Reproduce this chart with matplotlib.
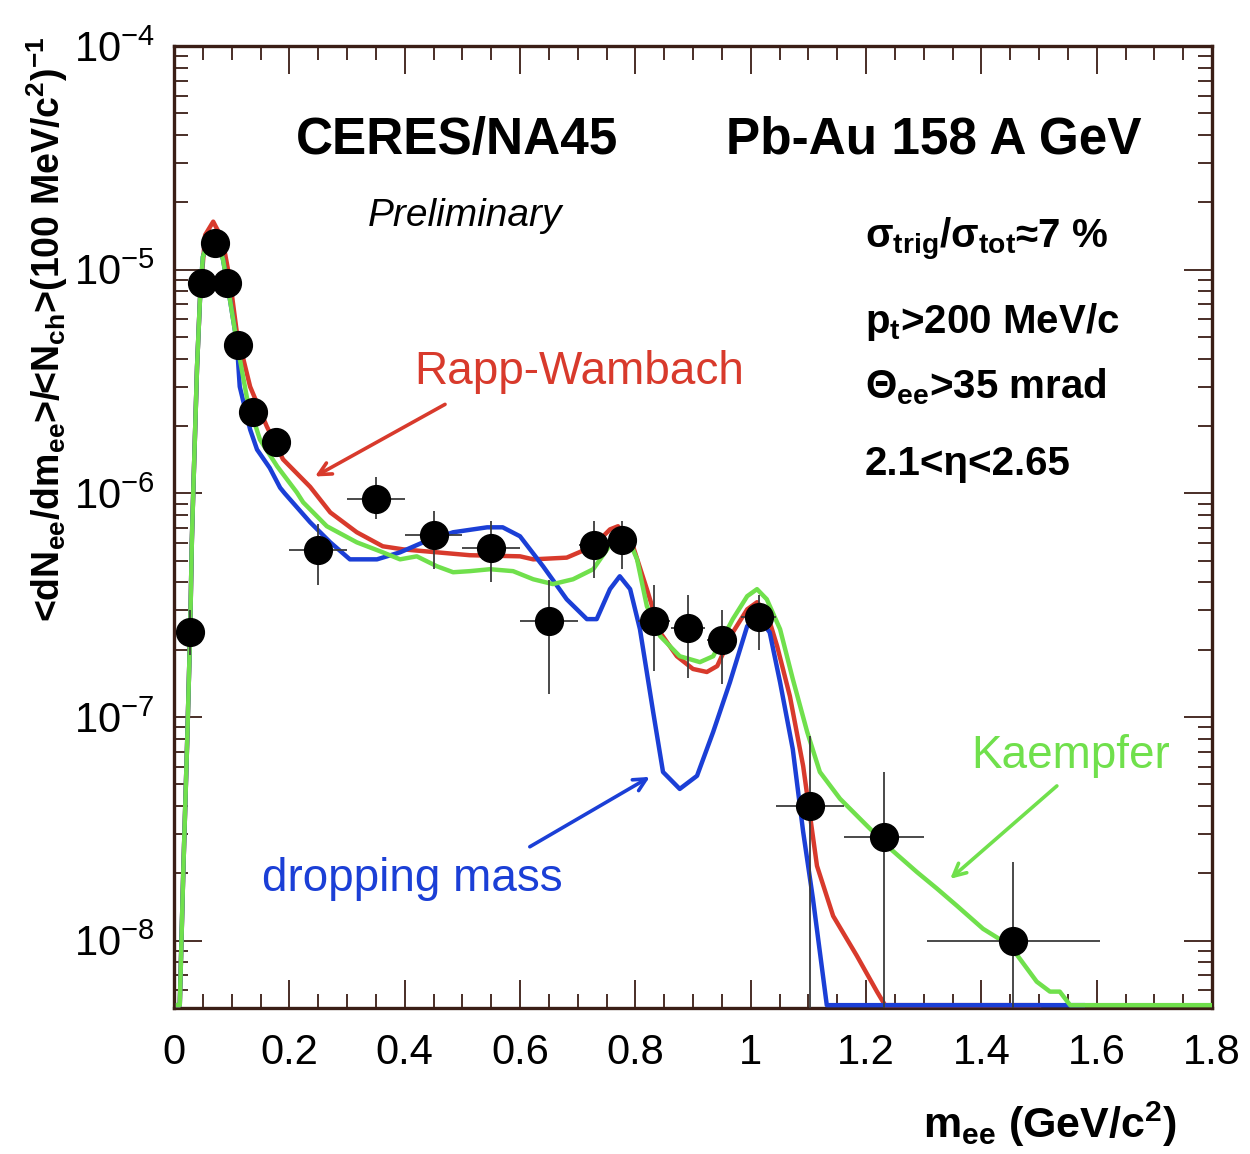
import matplotlib
matplotlib.use("Agg")
import matplotlib.pyplot as plt
import numpy as np
from matplotlib import font_manager
from matplotlib.ticker import LogLocator, MultipleLocator, NullFormatter

# ---- data -----------------------------------------------------------------
mass = [0.028, 0.049, 0.071, 0.092, 0.111, 0.137, 0.177, 0.25, 0.35, 0.45, 0.55,
        0.65, 0.728, 0.777, 0.832, 0.891, 0.950, 1.014, 1.103, 1.231, 1.455]
dndm = [2.4e-7, 8.7e-6, 1.32e-5, 8.7e-6, 4.6e-6, 2.3e-6, 1.7e-6, 5.6e-7, 9.4e-7,
        6.5e-7, 5.7e-7, 2.7e-7, 5.9e-7, 6.2e-7, 2.7e-7, 2.5e-7, 2.2e-7, 2.8e-7,
        4.0e-8, 2.9e-8, 1.0e-8]
dndm_lo = [1.9e-7, 8.0e-6, 1.25e-5, 8.0e-6, 4.2e-6, 2.1e-6, 1.55e-6, 3.9e-7, 7.7e-7,
           4.6e-7, 4.0e-7, 1.27e-7, 4.2e-7, 4.6e-7, 1.6e-7, 1.5e-7, 1.4e-7, 2.0e-7,
           1e-10, 1e-10, 1e-10]
dndm_hi = [3.0e-7, 9.4e-6, 1.4e-5, 9.4e-6, 5.0e-6, 2.5e-6, 1.85e-6, 7.3e-7, 1.18e-6,
           8.3e-7, 7.5e-7, 4.1e-7, 7.5e-7, 7.5e-7, 3.9e-7, 3.5e-7, 3.0e-7, 3.5e-7,
           8.2e-8, 5.7e-8, 2.25e-8]
mass_err = [0.0, 0.01, 0.01, 0.01, 0.01, 0.015, 0.02, 0.05, 0.05, 0.05, 0.05, 0.05,
            0.025, 0.025, 0.028, 0.029, 0.025, 0.03, 0.059, 0.07, 0.15]

# common low-mass rise of the three model curves
rise_x = [0.007, 0.010, 0.016, 0.023, 0.028, 0.031, 0.033, 0.040, 0.045]
rise_y = [0.0, 5e-9, 2.0e-8, 8.0e-8, 2.4e-7, 6.2e-7, 9.4e-7, 3.7e-6, 7.35e-6]

rw_x = rise_x + [0.054, 0.068, 0.080, 0.085, 0.097, 0.109, 0.132, 0.161, 0.189, 0.236,
                 0.271, 0.317, 0.362, 0.397, 0.456, 0.513, 0.600, 0.623, 0.681, 0.727,
                 0.756, 0.770, 0.796, 0.820, 0.843, 0.872, 0.900, 0.924, 0.942, 0.969,
                 0.994, 1.011, 1.028, 1.046, 1.068, 1.091, 1.115, 1.143, 1.184, 1.219,
                 1.233, 1.25, 1.50]
rw_y = rise_y + [1.43e-5, 1.64e-5, 1.43e-5, 1.32e-5, 9.0e-6, 5.23e-6, 3.0e-6, 1.99e-6,
                 1.42e-6, 1.07e-6, 8.22e-7, 6.7e-7, 5.8e-7, 5.62e-7, 5.45e-7, 5.29e-7,
                 5.23e-7, 5.07e-7, 5.16e-7, 5.8e-7, 6.9e-7, 7.13e-7, 5.8e-7, 3.73e-7,
                 2.39e-7, 1.87e-7, 1.64e-7, 1.59e-7, 1.69e-7, 2.39e-7, 3.03e-7, 3.26e-7,
                 2.94e-7, 2.07e-7, 1.24e-7, 6.04e-8, 2.16e-8, 1.29e-8, 8.57e-9, 5.92e-9,
                 5.0e-9, 0.0, 0.0]

dm_x = rise_x + [0.050, 0.062, 0.075, 0.085, 0.097, 0.109, 0.114, 0.132, 0.144, 0.166,
                 0.184, 0.192, 0.236, 0.271, 0.305, 0.352, 0.392, 0.432, 0.484, 0.543,
                 0.570, 0.600, 0.640, 0.681, 0.716, 0.733, 0.756, 0.773, 0.791, 0.808,
                 0.831, 0.848, 0.877, 0.907, 0.935, 0.964, 0.994, 1.016, 1.033, 1.051,
                 1.073, 1.091, 1.108, 1.132, 1.15, 1.576]
dm_y = rise_y + [1.14e-5, 1.40e-5, 1.36e-5, 1.11e-5, 7.35e-6, 4.72e-6, 3.0e-6, 1.93e-6,
                 1.57e-6, 1.30e-6, 1.06e-6, 1.0e-6, 7.43e-7, 6.04e-7, 5.07e-7, 5.07e-7,
                 5.45e-7, 6.04e-7, 6.7e-7, 7.05e-7, 7.05e-7, 6.43e-7, 4.72e-7, 3.36e-7,
                 2.74e-7, 2.74e-7, 3.73e-7, 4.26e-7, 3.73e-7, 2.47e-7, 1.05e-7, 5.68e-8,
                 4.77e-8, 5.46e-8, 8.58e-8, 1.43e-7, 2.55e-7, 2.74e-7, 2.39e-7, 1.43e-7,
                 7.19e-8, 3.07e-8, 1.54e-8, 5e-9, 0.0, 0.0]

ka_x = rise_x + [0.050, 0.062, 0.075, 0.085, 0.097, 0.109, 0.127, 0.149, 0.179, 0.213,
                 0.224, 0.265, 0.317, 0.362, 0.392, 0.421, 0.456, 0.484, 0.513, 0.548,
                 0.588, 0.623, 0.657, 0.692, 0.727, 0.751, 0.768, 0.786, 0.803, 0.820,
                 0.843, 0.877, 0.912, 0.935, 0.969, 0.994, 1.011, 1.028, 1.051, 1.073,
                 1.098, 1.120, 1.155, 1.202, 1.242, 1.288, 1.323, 1.358, 1.403, 1.450,
                 1.496, 1.519, 1.536, 1.554, 1.80]
ka_y = rise_y + [1.14e-5, 1.40e-5, 1.36e-5, 1.11e-5, 7.35e-6, 4.72e-6, 2.63e-6, 1.74e-6,
                 1.32e-6, 1.01e-6, 9.12e-7, 7.13e-7, 6.04e-7, 5.45e-7, 5.07e-7, 5.23e-7,
                 4.72e-7, 4.44e-7, 4.49e-7, 4.58e-7, 4.49e-7, 4.13e-7, 3.93e-7, 4.13e-7,
                 4.58e-7, 5.62e-7, 6.7e-7, 6.43e-7, 5.07e-7, 3.13e-7, 2.3e-7, 1.87e-7,
                 1.76e-7, 1.87e-7, 2.74e-7, 3.47e-7, 3.73e-7, 3.36e-7, 2.47e-7, 1.48e-7,
                 8.58e-8, 5.68e-8, 4.31e-8, 3.26e-8, 2.58e-8, 2.03e-8, 1.71e-8, 1.43e-8,
                 1.13e-8, 9.5e-9, 6.56e-9, 5.92e-9, 5.92e-9, 0.0, 0.0]

YMIN, YMAX = 5e-9, 1e-4
RED, BLUE, GREEN = "#d83a2c", "#1b3fd6", "#70e04c"
FRAME = "#3a1e16"

# ---- fonts: ROOT's Helvetica looks condensed here --------------------------
names = {f.name for f in font_manager.fontManager.ttflist}
base = "Liberation Sans Narrow" if "Liberation Sans Narrow" in names else "Liberation Sans"
plt.rcParams["font.family"] = [base, "DejaVu Sans"]
plt.rcParams["mathtext.fontset"] = "custom"
plt.rcParams["mathtext.rm"] = base
plt.rcParams["mathtext.it"] = base + ":italic"
plt.rcParams["mathtext.bf"] = base + ":bold"

fig = plt.figure(figsize=(12.5, 11.54), dpi=100)
ax = fig.add_axes([0.1392, 0.1265, 0.8304, 0.8336])


def floor(y):
    return np.clip(np.asarray(y, dtype=float), YMIN * 1.03, None)


ax.plot(rw_x, floor(rw_y), color=RED, lw=3.2, zorder=3)
ax.plot(dm_x, floor(dm_y), color=BLUE, lw=3.2, zorder=3)
ax.plot(ka_x, floor(ka_y), color=GREEN, lw=3.2, zorder=3)

y = np.array(dndm)
yerr = [y - np.array(dndm_lo), np.array(dndm_hi) - y]
ax.errorbar(mass, dndm, xerr=mass_err, yerr=yerr, fmt="o", color="black",
            ms=20, ecolor="#3c3c3c", elinewidth=1.3, capsize=0, zorder=5)

ax.set_yscale("log")
ax.set_xlim(0, 1.8)
ax.set_ylim(YMIN, YMAX)

ax.xaxis.set_major_locator(MultipleLocator(0.2))
ax.xaxis.set_minor_locator(MultipleLocator(0.05))
ax.xaxis.set_major_formatter(plt.FuncFormatter(lambda v, _: f"{v:g}"))
ax.yaxis.set_major_locator(LogLocator(base=10, numticks=20))
ax.yaxis.set_minor_locator(LogLocator(base=10, subs=np.arange(2, 10), numticks=20))
ax.yaxis.set_minor_formatter(NullFormatter())
ax.tick_params(which="both", direction="in", top=True, right=True, color=FRAME,
               width=1.3)
ax.tick_params(which="major", length=20)
ax.tick_params(which="minor", length=10)
ax.tick_params(axis="x", labelsize=30, pad=18)
ax.tick_params(axis="y", labelsize=30, pad=14)
for s in ax.spines.values():
    s.set_color(FRAME)
    s.set_linewidth(2.4)

ax.set_xlabel(r"m$_{\mathbf{ee}}$ (GeV/c$^{\mathbf{2}}$)", fontsize=31,
              fontweight="bold", loc="right")
ax.set_ylabel(r"<dN$_{\mathbf{ee}}$/dm$_{\mathbf{ee}}$>/<N$_{\mathbf{ch}}$>"
              r"(100 MeV/c$^{\mathbf{2}}$)$^{\mathbf{-1}}$",
              fontsize=27, fontweight="bold", loc="top")
ax.yaxis.set_label_coords(-0.1, 1.01)
ax.xaxis.set_label_coords(0.966, -0.095)

# header and cuts
ax.text(0.491, 3.8e-5, "CERES/NA45", fontsize=37, fontweight="bold",
        ha="center", va="center")
ax.text(1.318, 3.8e-5, "Pb-Au 158 A GeV", fontsize=37, fontweight="bold",
        ha="center", va="center")
ax.text(0.505, 1.73e-5, "Preliminary", fontsize=28, style="italic",
        ha="center", va="center")
cuts = [
    (1.36e-5, "σ$_{\\mathbf{trig}}$/σ$_{\\mathbf{tot}}$≈7 %"),
    (5.86e-6, r"p$_{\mathbf{t}}$>200 MeV/c"),
    (3.0e-6, "Θ$_{\\mathbf{ee}}$>35 mrad"),
    (1.35e-6, "2.1<η<2.65"),
]
for yy, s in cuts:
    ax.text(1.198, yy, s, fontsize=29, fontweight="bold", ha="left", va="center")

# model labels with arrows
ax.text(0.702, 3.5e-6, "Rapp-Wambach", color=RED, fontsize=33,
        ha="center", va="center")
ax.text(0.414, 1.89e-8, "dropping mass", color=BLUE, fontsize=33,
        ha="center", va="center")
ax.text(1.554, 6.7e-8, "Kaempfer", color=GREEN, fontsize=33,
        ha="center", va="center")
arrows = [
    ((0.470, 2.5e-6), (0.2445, 1.19e-6), RED),
    ((0.617, 2.63e-8), (0.825, 5.4e-8), BLUE),
    ((1.531, 4.92e-8), (1.346, 1.89e-8), GREEN),
]
for tail, head, c in arrows:
    ax.annotate("", xy=head, xytext=tail,
                arrowprops=dict(arrowstyle="->,head_length=0.9,head_width=0.45",
                                color=c, lw=2.6, shrinkA=0, shrinkB=0))

fig.savefig("out.png", dpi=100)
